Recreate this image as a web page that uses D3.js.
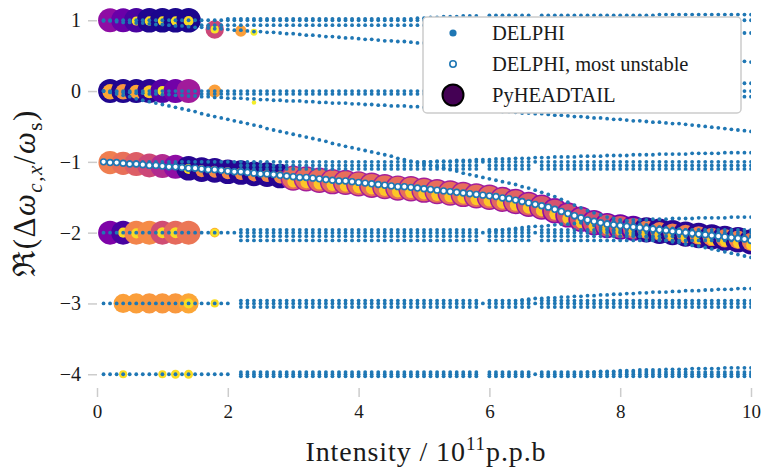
<!DOCTYPE html>
<html><head><meta charset="utf-8">
<script src="https://cdn.jsdelivr.net/npm/d3@7"></script>
<style>body{margin:0;background:#fff}</style>
</head><body><svg id="c" width="766" height="468"></svg>
<script>
// ---------------- DATA ----------------
const intensity = [
0.1,0.2,0.3,0.4,0.5,0.6,0.7,0.8,0.9,1.0,
1.1,1.2,1.3,1.4,1.5,1.6,1.7,1.8,1.9,2.0,
2.1,2.2,2.3,2.4,2.5,2.6,2.7,2.8,2.9,3.0,
3.1,3.2,3.3,3.4,3.5,3.6,3.7,3.8,3.9,4.0,
4.1,4.2,4.3,4.4,4.5,4.6,4.7,4.8,4.9,5.0,
5.1,5.2,5.3,5.4,5.5,5.6,5.7,5.8,5.9,6.0,
6.1,6.2,6.3,6.4,6.5,6.6,6.7,6.8,6.9,7.0,
7.1,7.2,7.3,7.4,7.5,7.6,7.7,7.8,7.9,8.0,
8.1,8.2,8.3,8.4,8.5,8.6,8.7,8.8,8.9,9.0,
9.1,9.2,9.3,9.4,9.5,9.6,9.7,9.8,9.9,10.0];

// DELPHI modes: real part of coherent tune shift, starting at the given intensity
const modeP1a = [
1,1,1,1,1,1,1,1,1,1, 1,1,1,1,1,1,1,1,1,1, 1,1,1,1,1,1,1,1,1,1, 1,1,1,1,1,1,1,1,1,1, 1,1,1,1,1,1,1,1,1,1,
1,1,1,1,1,1,1,1,1,1, 1,1,1,1,1,1,1,1,1,1, 1,1,1,1,1,1,1,1,1,1, 1,1,1,1,1,1,1,1,1,1, 1,1,1,1,1,1,1,1,1,1];
const modeP1b = [ // from 1.6
.93,.93,.93,.93,.93,
.93,.93,.93,.93,.93,.93,.93,.93,.93,.93,
.93,.93,.93,.93,.93,.93,.93,.93,.93,.93,
.93,.93,.93,.93,.93,.93,.93,.93,.93,.93,
.93,.93,.93,.93,.93,.93,.93,.93,null,.93,
.93,.93,.92,.92,.92,.92,null,.91,.91,.90,
.90,.90,.89,.89,.89,.88,.88,.88,.87,.87,
.87,.86,.86,.86,.85,.85,.85,.84,.84,.84,
.84,.83,.83,.83,.83,.82,.82,.82,.82,.82];
const modeP1c = [ // from 2.0
1.02,
1.02,1.02,1.02,1.02,1.02,1.02,1.02,1.02,1.02,1.02,
1.02,1.02,1.02,1.02,1.02,1.02,1.02,1.02,1.02,1.02,
1.02,1.02,1.02,1.02,1.02,1.02,1.02,1.02,1.03,1.03,
1.04,1.04,1.05,1.05,1.05,1.06,1.06,1.06,null,1.07,
1.07,1.07,1.07,1.07,1.07,1.07,null,1.07,1.07,1.07,
1.07,1.07,1.07,1.07,1.07,1.07,1.07,1.07,1.07,1.07,
1.07,1.07,1.07,1.07,1.07,1.08,1.08,1.08,1.08,1.08,
1.08,1.08,1.08,1.08,1.08,1.08,1.08,1.08,1.08,1.08];
const modeP1d = [ // from 0.1, slowly falling from +1
.99,.99,.98,.97,.97,.96,.96,.95,.94,.94,
.93,.92,.92,.91,.90,.90,.89,.88,.88,.87,
.86,.86,.85,.84,.84,.83,.83,.82,.81,.81,
.80,.79,.79,.78,.77,.77,.76,.75,.75,.74,
.73,.73,.72,.71,.71,.70,.70,.69,.68,.68,
.67,.67,.66,.65,.65,.64,.64,.63,.63,.62,
.62,.61,.61,.60,.60,.59,.59,.58,.57,.57,
.56,.56,.55,.55,.54,.54,.53,.53,.52,.52,
.51,.51,.50,.50,.49,.48,.48,.47,.47,.46,
.46,.45,.45,.44,.44,.43,.43,.42,.42,.41];
const mode0a = [
0,0,0,0,0,0,0,0,0,0, 0,0,0,0,0,0,0,0,0,0, 0,0,0,0,0,0,0,0,0,0, 0,0,0,0,0,0,0,0,0,0, 0,0,0,0,0,0,0,0,0,0,
0,0,0,0,0,0,0,0,0,0, 0,0,0,0,0,0,0,0,0,0, 0,0,0,0,0,0,0,0,0,0, 0,0,0,0,0,0,0,0,0,0, 0,0,0,0,0,0,0,0,0,0];
const mode0b = [ // from 1.6
-.04,-.04,-.04,-.04,-.04,
-.04,-.04,-.04,-.04,-.04,-.04,-.04,-.04,-.04,-.04,
-.04,-.04,-.04,-.04,-.04,-.04,-.04,-.04,-.04,-.04,
-.04,-.04,-.04,-.04,-.04,-.04,-.04,-.04,-.04,-.04,
-.04,-.04,-.04,-.04,-.04,-.04,-.04,-.04,null,-.04,
-.04,-.05,-.05,-.05,-.05,-.05,null,-.06,-.06,-.06,
-.06,-.06,-.06,-.06,-.07,-.07,-.07,-.07,-.07,-.07,
-.07,-.07,-.07,-.08,-.08,-.08,-.08,-.08,-.08,-.08,
-.08,-.08,-.08,-.08,-.08,-.08,-.08,-.08,-.08,-.08];
const mode0c = [ // from 5.0
0,
0,0,.01,.01,.01,.01,.02,.02,.02,.02,
.03,.03,.03,.03,.04,.04,.04,.04,.05,.05,
.05,.05,.06,.06,.06,.06,.07,.07,.07,.07,
.07,.08,.08,.08,.08,.09,.09,.09,.09,.09,
.10,.10,.10,.10,.10,.11,.11,.11,.11,.11];
const mode0d = [ // from 0.1, slow descent
0,-.01,-.01,-.02,-.02,-.03,-.03,-.04,-.04,-.05,
-.05,-.06,-.06,-.07,-.07,-.08,-.08,-.09,-.09,-.10,
-.10,-.10,-.11,-.11,-.12,-.12,-.13,-.13,-.14,-.14,
-.14,-.15,-.15,-.16,-.16,-.17,-.17,-.17,-.18,-.18,
-.19,-.19,-.20,-.20,-.21,-.21,-.21,-.22,-.22,-.23,
-.23,-.24,-.24,-.25,-.25,-.26,-.26,-.27,-.27,-.28,
-.28,-.29,-.29,-.30,-.31,-.31,-.32,-.32,-.33,-.34,
-.34,-.35,-.36,-.36,-.37,-.38,-.38,-.39,-.40,-.40,
-.41,-.42,-.42,-.43,-.44,-.44,-.45,-.46,-.46,-.47,
-.48,-.49,-.50,-.51,-.52,-.53,-.54,-.55,-.56,-.57];
const mode0e = [ // from 0.1, steep descent
0,-.02,-.04,-.06,-.08,-.11,-.13,-.15,-.17,-.19,
-.21,-.23,-.25,-.27,-.29,-.32,-.34,-.36,-.38,-.40,
-.42,-.44,-.46,-.48,-.50,-.53,-.55,-.57,-.59,-.61,
-.63,-.65,-.67,-.69,-.71,-.74,-.76,-.78,-.80,-.82,
-.84,-.86,-.88,-.90,-.92,-.95,-.97,-.99,-1.01,-1.03,
-1.05,-1.07,-1.09,-1.11,-1.13,-1.16,-1.18,-1.20,-1.22,-1.24,
-1.26,-1.28,-1.30,-1.32,-1.35,-1.37,-1.40,-1.43,-1.46,-1.49,
-1.53,-1.57,-1.61,-1.65,-1.69,-1.72,-1.75,-1.78,-1.80,-1.82,
-1.84,-1.86,-1.88,-1.89,-1.91,-1.92,-1.93,-1.94,-1.95,-1.96,
-1.97,-1.98,-1.99,-2.00,-2.01,-2.02,-2.03,-2.04,-2.05,-2.06];
const modeM1a = [
-1,-1,-1,-1,-1,-1,-1,-1,-1,-1, -1,-1,-1,-1,-1,-1,-1,-1,-1,-1, -1,-1,-1,-1,-1,-1,-1,-1,-1,-1, -1,-1,-1,-1,-1,-1,-1,-1,-1,-1, -1,-1,-1,-1,-1,-1,-1,-1,-1,-1,
-1,-1,-1,-1,-1,-1,-1,-1,-1,-1, -1,-1,-1,-1,-1,-1,-1,-1,-1,-1, -1,-1,-1,-1,-1,-1,-1,-1,-1,-1, -1,-1,-1,-1,-1,-1,-1,-1,-1,-1, -1,-1,-1,-1,-1,-1,-1,-1,-1,-1];
const modeM1b = [ // from 2.2
-1.05,-1.05,-1.05,-1.05,-1.05,-1.05,-1.05,-1.05,-1.05,
-1.05,-1.05,-1.05,-1.05,-1.05,-1.05,-1.05,-1.05,-1.05,-1.05,
-1.05,-1.05,-1.05,-1.05,-1.05,-1.05,-1.05,-1.05,-1.05,-1.05,
-1.05,-1.05,-1.05,-1.05,-1.05,-1.05,-1.05,-1.05,null,-1.05,
-1.05,-1.05,-1.05,-1.05,-1.05,-1.05,null,-1.05,-1.05,-1.05,
-1.05,-1.05,-1.05,-1.05,-1.05,-1.05,-1.05,-1.05,-1.05,-1.05,
-1.05,-1.05,-1.05,-1.05,-1.05,-1.05,-1.05,-1.05,-1.05,-1.05,
-1.05,-1.05,-1.05,-1.05,-1.05,-1.05,-1.05,-1.05,-1.05,-1.05];
const modeM1c = [ // from 2.2
-1.10,-1.10,-1.10,-1.10,-1.10,-1.10,-1.10,-1.10,-1.10,
-1.10,-1.10,-1.10,-1.10,-1.10,-1.10,-1.10,-1.10,-1.10,-1.10,
-1.10,-1.10,-1.10,-1.10,-1.10,-1.10,-1.10,-1.10,-1.10,-1.10,
-1.10,-1.10,-1.10,-1.10,-1.10,-1.10,-1.10,-1.10,null,-1.10,
-1.10,-1.10,-1.10,-1.10,-1.10,-1.10,null,-1.10,-1.10,-1.10,
-1.10,-1.10,-1.10,-1.10,-1.10,-1.10,-1.10,-1.10,-1.10,-1.10,
-1.10,-1.10,-1.10,-1.10,-1.10,-1.10,-1.10,-1.10,-1.10,-1.10,
-1.10,-1.10,-1.10,-1.10,-1.10,-1.10,-1.10,-1.10,-1.10,-1.10];
const modeM1d = [ // from 5.0
-1.00,
-1.00,-.99,-.99,-.99,-.98,-.98,-.98,-.97,-.97,-.97,
-.96,-.96,-.96,-.95,-.95,-.95,-.94,-.94,-.94,-.93,
-.93,-.93,-.93,-.92,-.92,-.92,-.92,-.91,-.91,-.91,
-.91,-.90,-.90,-.90,-.90,-.89,-.89,-.89,-.89,-.89,
-.88,-.88,-.88,-.88,-.88,-.87,-.87,-.87,-.87,-.87];
const modeM2a = [
-2,-2,-2,-2,-2,-2,-2,-2,-2,-2, -2,-2,-2,-2,-2,-2,-2,-2,-2,-2, -2,-2,-2,-2,-2,-2,-2,-2,-2,-2, -2,-2,-2,-2,-2,-2,-2,-2,-2,-2, -2,-2,-2,-2,-2,-2,-2,-2,-2,-2,
-2,-2,-2,-2,-2,-2,-2,-2,-2,-2, -2,-2,-2,-2,-2,-2,-2,-2,-2,-2, -2,-2,-2,-2,-2,-2,-2,-2,-2,-2, -2,-2,-2,-2,-2,-2,-2,-2,-2,-2, -2,-2,-2,-2,-2,-2,-2,-2,-2,-2];
const modeM2b = [ // from 2.2
-1.96,-1.96,-1.96,-1.96,-1.96,-1.96,-1.96,-1.96,-1.96,
-1.96,-1.96,-1.96,-1.96,-1.96,-1.96,-1.96,-1.96,-1.96,-1.96,
-1.96,-1.96,-1.96,-1.96,-1.96,-1.96,-1.96,-1.96,-1.96,-1.96,
-1.96,-1.96,-1.96,-1.96,-1.96,-1.96,-1.96,-1.96,null,-1.96,
-1.96,-1.96,-1.96,-1.96,-1.96,-1.96,null,-1.96,-1.96,-1.96,
-1.96,-1.96,-1.96,-1.96,-1.96,-1.96,-1.96,-1.96,-1.96,-1.96,
-1.96,-1.96,-1.96,-1.96,-1.96,-1.96,-1.96,-1.96,-1.96,-1.96,
-1.96,-1.96,-1.96,-1.96,-1.96,-1.96,-1.96,-1.96,-1.96,-1.96];
const modeM2c = [ // from 2.2
-2.05,-2.05,-2.05,-2.05,-2.05,-2.05,-2.05,-2.05,-2.05,
-2.05,-2.05,-2.05,-2.05,-2.05,-2.05,-2.05,-2.05,-2.05,-2.05,
-2.05,-2.05,-2.05,-2.05,-2.05,-2.05,-2.05,-2.05,-2.05,-2.05,
-2.05,-2.05,-2.05,-2.05,-2.05,-2.05,-2.05,-2.05,null,-2.05,
-2.05,-2.05,-2.05,-2.05,-2.05,-2.05,null,-2.05,-2.05,-2.05,
-2.05,-2.05,-2.05,-2.05,-2.05,-2.05,-2.05,-2.05,-2.05,-2.05,
-2.05,-2.05,-2.05,-2.05,-2.05,-2.05,-2.05,-2.05,-2.05,-2.05,
-2.05,-2.05,-2.05,-2.05,-2.05,-2.05,-2.05,-2.05,-2.05,-2.05];
const modeM2d = [ // from 2.2
-2.11,-2.11,-2.11,-2.11,-2.11,-2.11,-2.11,-2.11,-2.11,
-2.11,-2.11,-2.11,-2.11,-2.11,-2.11,-2.11,-2.11,-2.11,-2.11,
-2.11,-2.11,-2.11,-2.11,-2.11,-2.11,-2.11,-2.11,-2.11,-2.11,
-2.11,-2.11,-2.11,-2.11,-2.11,-2.11,-2.11,-2.11,null,-2.11,
-2.11,-2.11,-2.11,-2.11,-2.11,-2.11,null,-2.11,-2.11,-2.11,
-2.11,-2.11,-2.11,-2.11,-2.11,-2.11,-2.11,-2.11,-2.11,-2.11,
-2.11,-2.11,-2.11,-2.11,-2.11,-2.11,-2.11,-2.11,-2.11,-2.11,
-2.11,-2.11,-2.11,-2.11,-2.11,-2.11,-2.11,-2.11,-2.11,-2.11];
const modeM2e = [ // from 6.0, rising
-1.98,
-1.97,-1.96,-1.95,-1.94,-1.93,-1.92,-1.91,-1.91,-1.90,-1.89,
-1.88,-1.88,-1.87,-1.86,-1.86,-1.85,-1.85,-1.84,-1.84,-1.83,
-1.83,-1.82,-1.82,-1.82,-1.81,-1.81,-1.81,-1.80,-1.80,-1.80,
-1.80,-1.79,-1.79,-1.79,-1.79,-1.79,-1.78,-1.78,-1.78,-1.78];
const modeM2f = [ // from 7.0, splitting below the most unstable mode
-1.67,
-1.71,-1.75,-1.79,-1.83,-1.87,-1.90,-1.93,-1.95,-1.97,-1.99,
-2.01,-2.03,-2.05,-2.06,-2.08,-2.10,-2.11,-2.13,-2.14,-2.16,
-2.18,-2.19,-2.21,-2.23,-2.25,-2.27,-2.29,-2.31,-2.33,-2.35];
const modeM3a = [
-3,-3,-3,-3,-3,-3,-3,-3,-3,-3, -3,-3,-3,-3,-3,-3,-3,-3,-3,-3, null,-3,-3,-3,-3,-3,-3,-3,-3,-3, -3,-3,-3,-3,-3,-3,-3,-3,-3,-3, -3,-3,-3,-3,-3,-3,-3,-3,-3,-3,
-3,-3,-3,-3,-3,-3,-3,-3,-3,-3, -3,-3,-3,-3,-3,-3,-3,-3,-3,-3, -3,-3,-3,-3,-3,-3,-3,-3,-3,-3, -3,-3,-3,-3,-3,-3,-3,-3,-3,-3, -3,-3,-3,-3,-3,-3,-3,-3,-3,-3];
const modeM3b = [ // from 2.2
-2.96,-2.96,-2.96,-2.96,-2.96,-2.96,-2.96,-2.96,-2.96,
-2.96,-2.96,-2.96,-2.96,-2.96,-2.96,-2.96,-2.96,-2.96,-2.96,
-2.96,-2.96,-2.96,-2.96,-2.96,-2.96,-2.96,-2.96,-2.96,-2.96,
-2.96,-2.96,-2.96,-2.96,-2.96,-2.96,-2.96,-2.96,null,-2.96,
-2.96,-2.96,-2.96,-2.96,-2.96,-2.96,null,-2.96,-2.96,-2.96,
-2.96,-2.96,-2.96,-2.96,-2.96,-2.96,-2.96,-2.96,-2.96,-2.96,
-2.96,-2.96,-2.96,-2.96,-2.96,-2.96,-2.96,-2.96,-2.96,-2.96,
-2.96,-2.96,-2.96,-2.96,-2.96,-2.96,-2.96,-2.96,-2.96,-2.96];
const modeM3c = [ // from 2.2
-3.05,-3.05,-3.05,-3.05,-3.05,-3.05,-3.05,-3.05,-3.05,
-3.05,-3.05,-3.05,-3.05,-3.05,-3.05,-3.05,-3.05,-3.05,-3.05,
-3.05,-3.05,-3.05,-3.05,-3.05,-3.05,-3.05,-3.05,-3.05,-3.05,
-3.05,-3.05,-3.05,-3.05,-3.05,-3.05,-3.05,-3.05,null,-3.05,
-3.05,-3.05,-3.05,-3.05,-3.05,-3.05,null,-3.05,-3.05,-3.05,
-3.05,-3.05,-3.05,-3.05,-3.05,-3.05,-3.05,-3.05,-3.05,-3.05,
-3.05,-3.05,-3.05,-3.05,-3.05,-3.05,-3.05,-3.05,-3.05,-3.05,
-3.05,-3.05,-3.05,-3.05,-3.05,-3.05,-3.05,-3.05,-3.05,-3.05];
const modeM3d = [ // from 6.5, rising
-2.95,-2.94,-2.93,-2.93,-2.92,-2.92,
-2.91,-2.91,-2.90,-2.90,-2.89,-2.89,-2.88,-2.88,-2.87,-2.87,
-2.86,-2.86,-2.85,-2.85,-2.84,-2.84,-2.84,-2.83,-2.83,-2.82,
-2.82,-2.82,-2.81,-2.81,-2.80,-2.80,-2.80,-2.79,-2.79,-2.79];
const modeM4a = [
-4,-4,-4,-4,-4,-4,-4,-4,-4,-4, -4,-4,-4,-4,-4,-4,-4,-4,-4,-4, null,-4,-4,-4,-4,-4,-4,-4,-4,-4, -4,-4,-4,-4,-4,-4,-4,-4,-4,-4, -4,-4,-4,-4,-4,-4,-4,-4,-4,-4,
-4,-4,-4,-4,-4,-4,-4,-4,null,-4, -4,-4,-4,-4,-4,-4,-4,-4,-4,-4, -4,-4,-4,-4,-4,-4,-4,-4,-4,-4, -4,-4,-4,-4,-4,-4,-4,-4,-4,-4, -4,-4,-4,-4,-4,-4,-4,-4,-4,-4];
const modeM4b = [ // from 2.2
-3.97,-3.97,-3.97,-3.97,-3.97,-3.97,-3.97,-3.97,-3.97,
-3.97,-3.97,-3.97,-3.97,-3.97,-3.97,-3.97,-3.97,-3.97,-3.97,
-3.97,-3.97,-3.97,-3.97,-3.97,-3.97,-3.97,-3.97,-3.97,-3.97,
-3.97,-3.97,-3.97,-3.97,-3.97,-3.97,-3.97,-3.97,null,-3.97,
-3.97,-3.97,-3.97,-3.97,-3.97,-3.97,null,-3.97,-3.97,-3.97,
-3.97,-3.97,-3.97,-3.97,-3.97,-3.97,-3.97,-3.97,-3.97,-3.97,
-3.97,-3.97,-3.97,-3.97,-3.97,-3.97,-3.97,-3.97,-3.97,-3.97,
-3.97,-3.97,-3.97,-3.97,-3.97,-3.97,-3.97,-3.97,-3.97,-3.97];
const modeM4c = [ // from 2.2
-4.03,-4.03,-4.03,-4.03,-4.03,-4.03,-4.03,-4.03,-4.03,
-4.03,-4.03,-4.03,-4.03,-4.03,-4.03,-4.03,-4.03,-4.03,-4.03,
-4.03,-4.03,-4.03,-4.03,-4.03,-4.03,-4.03,-4.03,-4.03,-4.03,
-4.03,-4.03,-4.03,-4.03,-4.03,-4.03,-4.03,-4.03,null,-4.03,
-4.03,-4.03,-4.03,-4.03,-4.03,-4.03,null,-4.03,-4.03,-4.03,
-4.03,-4.03,-4.03,-4.03,-4.03,-4.03,-4.03,-4.03,-4.03,-4.03,
-4.03,-4.03,-4.03,-4.03,-4.03,-4.03,-4.03,-4.03,-4.03,-4.03,
-4.03,-4.03,-4.03,-4.03,-4.03,-4.03,-4.03,-4.03,-4.03,-4.03];
const modeM4d = [ // from 7.5, rising
-3.97,-3.97,-3.96,-3.96,-3.96,-3.95,
-3.95,-3.95,-3.94,-3.94,-3.94,-3.94,-3.93,-3.93,-3.93,-3.93,
-3.92,-3.92,-3.92,-3.92,-3.92,-3.91,-3.91,-3.91,-3.91,-3.91];

// DELPHI most unstable mode (from 0.1)
const mostUnstable = [
-1.00,-1.01,-1.01,-1.02,-1.03,-1.03,-1.04,-1.05,-1.05,-1.06,
-1.07,-1.07,-1.08,-1.09,-1.09,-1.10,-1.11,-1.11,-1.12,-1.13,
-1.14,-1.14,-1.15,-1.16,-1.17,-1.17,-1.18,-1.19,-1.20,-1.21,
-1.22,-1.22,-1.23,-1.24,-1.25,-1.26,-1.27,-1.27,-1.28,-1.29,
-1.30,-1.31,-1.32,-1.33,-1.34,-1.35,-1.35,-1.36,-1.37,-1.38,
-1.39,-1.40,-1.41,-1.42,-1.43,-1.44,-1.45,-1.46,-1.47,-1.48,
-1.49,-1.51,-1.52,-1.54,-1.56,-1.58,-1.60,-1.62,-1.64,-1.67,
-1.70,-1.73,-1.76,-1.79,-1.82,-1.84,-1.86,-1.88,-1.89,-1.90,
-1.91,-1.92,-1.93,-1.94,-1.95,-1.96,-1.97,-1.98,-1.99,-2.00,
-2.01,-2.02,-2.03,-2.04,-2.05,-2.06,-2.07,-2.08,-2.09,-2.11];

// list of DELPHI modes: [first intensity, values]
const delphiModes = [
  [0.1, modeP1a], [1.6, modeP1b], [2.0, modeP1c], [0.1, modeP1d],
  [0.1, mode0a], [1.6, mode0b], [5.0, mode0c], [0.1, mode0d], [0.1, mode0e],
  [0.1, modeM1a], [2.2, modeM1b], [2.2, modeM1c], [5.0, modeM1d],
  [0.1, modeM2a], [2.2, modeM2b], [2.2, modeM2c], [2.2, modeM2d], [6.0, modeM2e], [7.0, modeM2f],
  [0.1, modeM3a], [2.2, modeM3b], [2.2, modeM3c], [6.5, modeM3d],
  [0.1, modeM4a], [2.2, modeM4b], [2.2, modeM4c], [7.5, modeM4d]
];

// PyHEADTAIL: [intensity, Re(tune shift), amplitude (0..1), colour value (0..1)]
const phBandP1 = [
 [0.2,1.0,.85,.30],[0.4,1.0,.85,.20],[0.6,1.0,.88,.12],[0.6,0.99,.12,.93],
 [0.8,1.0,.9,.03],[0.8,0.99,.13,.93],[1.0,1.0,.9,.02],[1.0,0.99,.13,.93],
 [1.2,1.0,.9,.02],[1.2,0.99,.13,.93],[1.4,1.0,.9,.02],[1.4,0.99,.15,.93],
 [1.8,0.87,.5,.5],[1.8,0.87,.1,.95],[2.2,0.85,.2,.78],[2.4,0.83,.07,.97]];
const phBand0 = [
 [0.2,0,.85,.03],[0.2,-0.01,.35,.8],[0.4,0,.85,.03],[0.4,-0.01,.35,.75],
 [0.6,0,.85,.03],[0.6,-0.01,.3,.8],[0.8,0,.85,.05],[0.8,-0.01,.25,.88],
 [1.0,0,.85,.15],[1.0,0,.15,.95],[1.2,0,.85,.22],[1.4,0,.85,.35],
 [1.8,0,.25,.78],[2.4,-0.16,.03,.97]];
const phMain = [
 [0.2,-1.01,.8,.68],[0.4,-1.02,.8,.64],[0.6,-1.03,.85,.58],[0.8,-1.05,.85,.5],
 [1.0,-1.06,.85,.4],[1.2,-1.07,.85,.3],[1.4,-1.09,.9,.04],[1.4,-1.10,.15,.93],
 [1.6,-1.11,.9,.04],[1.6,-1.13,.22,.72],[1.8,-1.12,.9,.04],[1.8,-1.14,.22,.72],
 [2.0,-1.14,.9,.04],[2.0,-1.16,.22,.72],[2.2,-1.15,.9,.04],[2.2,-1.17,.22,.72],
 [2.4,-1.17,.9,.04],[2.4,-1.19,.22,.72],[2.6,-1.18,.9,.04],[2.6,-1.20,.22,.72],
 [2.8,-1.20,.9,.04],[2.8,-1.22,.22,.72],
 [3.0,-1.23,.95,.36],[3.0,-1.23,.74,.63],[3.0,-1.28,.2,.88],
 [3.2,-1.24,.95,.36],[3.2,-1.24,.74,.63],[3.2,-1.29,.2,.88],
 [3.4,-1.26,.95,.36],[3.4,-1.26,.74,.63],[3.4,-1.31,.2,.88],
 [3.6,-1.28,.95,.36],[3.6,-1.28,.74,.63],[3.6,-1.33,.2,.88],
 [3.8,-1.29,.95,.36],[3.8,-1.29,.74,.63],[3.8,-1.34,.2,.88],
 [4.0,-1.31,.95,.36],[4.0,-1.31,.74,.63],[4.0,-1.36,.2,.88],
 [4.2,-1.33,.95,.36],[4.2,-1.33,.74,.63],[4.2,-1.38,.2,.88],
 [4.4,-1.35,.95,.36],[4.4,-1.35,.74,.63],[4.4,-1.40,.2,.88],
 [4.6,-1.37,.95,.36],[4.6,-1.37,.74,.63],[4.6,-1.42,.2,.88],
 [4.8,-1.38,.95,.36],[4.8,-1.38,.74,.63],[4.8,-1.43,.2,.88],
 [5.0,-1.40,.95,.36],[5.0,-1.40,.74,.63],[5.0,-1.45,.2,.88],
 [5.2,-1.42,.95,.36],[5.2,-1.42,.74,.63],[5.2,-1.47,.2,.88],
 [5.4,-1.44,.95,.36],[5.4,-1.44,.74,.63],[5.4,-1.49,.2,.88],
 [5.6,-1.46,.95,.36],[5.6,-1.46,.74,.63],[5.6,-1.51,.2,.88],
 [5.8,-1.48,.95,.36],[5.8,-1.48,.74,.63],[5.8,-1.53,.2,.88],
 [6.0,-1.50,.95,.35],[6.0,-1.50,.74,.62],[6.0,-1.55,.2,.88],
 [6.2,-1.53,.95,.34],[6.2,-1.53,.74,.61],[6.2,-1.58,.2,.88],
 [6.4,-1.56,.95,.33],[6.4,-1.56,.74,.6],[6.4,-1.61,.2,.88],
 [6.6,-1.60,.95,.32],[6.6,-1.60,.74,.58],[6.6,-1.65,.2,.88],
 [6.8,-1.64,.95,.31],[6.8,-1.64,.74,.56],[6.8,-1.69,.2,.88],
 [7.0,-1.69,.95,.3],[7.0,-1.69,.72,.54],[7.0,-1.74,.18,.88],
 [7.2,-1.75,.95,.3],[7.2,-1.75,.72,.53],[7.2,-1.80,.18,.88],
 [7.4,-1.81,.95,.3],[7.4,-1.81,.72,.53],[7.4,-1.86,.18,.88],
 [7.6,-1.86,.95,.28],[7.6,-1.86,.72,.53],[7.6,-1.91,.18,.88],
 [7.8,-1.90,.95,.26],[7.8,-1.90,.72,.54],[7.8,-1.95,.18,.88],
 [8.0,-1.92,.95,.22],[8.0,-1.92,.7,.56],[8.0,-1.97,.16,.88],
 [8.2,-1.94,.95,.18],[8.2,-1.94,.65,.58],[8.2,-1.99,.16,.88],
 [8.4,-1.96,.95,.05],[8.4,-1.96,.5,.68],[8.4,-2.01,.14,.9],
 [8.6,-1.98,.95,.05],[8.6,-1.98,.5,.68],[8.6,-2.03,.14,.9],
 [8.8,-2.00,.95,.05],[8.8,-2.00,.5,.68],[8.8,-2.05,.14,.9],
 [9.0,-2.02,.95,.05],[9.0,-2.02,.5,.68],[9.0,-2.07,.14,.9],
 [9.2,-2.04,.95,.05],[9.2,-2.04,.5,.68],[9.2,-2.09,.14,.9],
 [9.4,-2.06,.95,.05],[9.4,-2.06,.5,.68],[9.4,-2.11,.14,.9],
 [9.6,-2.08,.95,.05],[9.6,-2.08,.5,.68],[9.6,-2.13,.14,.9],
 [9.8,-2.10,.95,.05],[9.8,-2.10,.5,.68],[9.8,-2.15,.14,.9],
 [10.0,-2.13,.95,.05],[10.0,-2.13,.5,.68],[10.0,-2.18,.14,.9]];
const phBandM2 = [
 [0.2,-2,.85,.25],[0.4,-2,.85,.12],[0.4,-2,.15,.93],[0.6,-2,.85,.7],[0.6,-2.01,.15,.93],
 [0.8,-2,.85,.72],[1.0,-2,.85,.52],[1.0,-2,.18,.93],[1.2,-2,.85,.62],[1.2,-2,.18,.93],
 [1.4,-2,.85,.66],[1.8,-2,.14,.82],[1.8,-2,.09,.95]];
const phBandM3 = [
 [0.4,-3,.55,.78],[0.6,-3,.6,.78],[0.8,-3,.6,.76],[1.0,-3,.6,.76],[1.2,-3,.6,.76],
 [1.4,-3,.6,.8],[1.4,-3,.15,.93],[1.8,-3,.1,.93]];
const phBandM4 = [
 [0.4,-4,.1,.93],[1.0,-4,.1,.93],[1.2,-4,.12,.93],[1.4,-4,.12,.93]];

const xTicks = [0,2,4,6,8,10];
const yTicks = [-4,-3,-2,-1,0,1];
const legendLabels = ["DELPHI", "DELPHI, most unstable", "PyHEADTAIL"];

// ---------------- DRAW ----------------
const svg = d3.select("#c");
const W = 766, H = 468;
const x = d3.scaleLinear().domain([0,10]).range([97,751]);
const y = d3.scaleLinear().domain([-4.2,1.2]).range([388.4,6.1]);
const rScale = d3.scaleSqrt().domain([0,1]).range([0,13]);
const col = d3.interpolatePlasma;
const serif = "'Liberation Serif','Times New Roman',serif";
const blue = "#1f77b4";

svg.append("rect").attr("width",W).attr("height",H).attr("fill","#fff");
svg.append("clipPath").attr("id","clip").append("rect")
  .attr("x",97).attr("y",0).attr("width",751-97).attr("height",392);

const plot = svg.append("g").attr("clip-path","url(#clip)");

// PyHEADTAIL
const ph = [].concat(phBandP1, phBand0, phMain, phBandM2, phBandM3, phBandM4);
plot.append("g").selectAll("circle").data(ph).join("circle")
  .attr("cx", d => x(d[0])).attr("cy", d => y(d[1]))
  .attr("r", d => rScale(d[2])).attr("fill", d => col(d[3]));

// DELPHI all modes
const delphiPts = [];
delphiModes.forEach(([start, vals]) => {
  const k = intensity.indexOf(start);
  vals.forEach((v, j) => { if (v !== null) delphiPts.push([intensity[k + j], v]); });
});
plot.append("g").selectAll("circle").data(delphiPts).join("circle")
  .attr("cx", d => x(d[0])).attr("cy", d => y(d[1])).attr("r", 1.9).attr("fill", blue);

// most unstable
plot.append("g").selectAll("circle").data(mostUnstable.map((v,i)=>[intensity[i],v])).join("circle")
  .attr("cx", d => x(d[0])).attr("cy", d => y(d[1])).attr("r", 2.9)
  .attr("fill","#fff").attr("stroke",blue).attr("stroke-width",1.6);

// axes
const yAxis = d3.axisLeft(y).tickValues(yTicks).tickSize(9).tickPadding(7)
  .tickFormat(d => d < 0 ? "\u2212" + Math.abs(d) : String(d));
const gy = svg.append("g").attr("transform","translate(97,0)").call(yAxis);
gy.select(".domain").remove();
gy.selectAll(".tick line").attr("stroke","#cccccc").attr("stroke-width",1.5);
gy.selectAll(".tick text").attr("font-family",serif).attr("font-size",20).attr("fill","#1a1a1a");

const xAxis = d3.axisBottom(x).tickValues(xTicks).tickSize(9).tickPadding(8);
const gx = svg.append("g").attr("transform","translate(0,388)").call(xAxis);
gx.select(".domain").remove();
gx.selectAll(".tick line").attr("stroke","#cccccc").attr("stroke-width",1.5);
gx.selectAll(".tick text").attr("font-family",serif).attr("font-size",19).attr("fill","#1a1a1a");

// x label
const xl = svg.append("text").attr("x",426).attr("y",461).attr("text-anchor","middle")
  .attr("font-family",serif).attr("font-size",28).attr("letter-spacing",0.9).attr("fill","#1a1a1a");
xl.append("tspan").text("Intensity / 10");
xl.append("tspan").attr("font-size",19).attr("dy",-11).text("11");
xl.append("tspan").attr("dy",11).text("p.p.b");

// y label
const yl = svg.append("text").attr("transform","translate(35,193) rotate(-90)")
  .attr("text-anchor","middle").attr("font-family",serif).attr("font-size",31)
  .attr("letter-spacing",1.5).attr("fill","#1a1a1a");
yl.append("tspan").text("\u211C(\u0394");
yl.append("tspan").attr("font-style","italic").text("\u03C9");
yl.append("tspan").attr("font-style","italic").attr("font-size",21).attr("dy",7).text("c,x");
yl.append("tspan").attr("dy",-7).text("/");
yl.append("tspan").attr("font-style","italic").text("\u03C9");
yl.append("tspan").attr("font-size",21).attr("dy",7).text("s");
yl.append("tspan").attr("dy",-7).text(")");

// legend
const lg = svg.append("g");
lg.append("rect").attr("x",423).attr("y",17).attr("width",318).attr("height",96).attr("rx",4)
  .attr("fill","#fff").attr("stroke","#cccccc").attr("stroke-width",1.5);
const rows = [33, 64, 95];
lg.append("circle").attr("cx",453).attr("cy",rows[0]).attr("r",3.6).attr("fill",blue);
lg.append("circle").attr("cx",453).attr("cy",rows[1]).attr("r",3.2).attr("fill","#fff")
  .attr("stroke",blue).attr("stroke-width",1.6);
lg.append("circle").attr("cx",453).attr("cy",rows[2]).attr("r",10.5).attr("fill","#440154")
  .attr("stroke","#000").attr("stroke-width",2);
legendLabels.forEach((t,i) => {
  lg.append("text").attr("x",492).attr("y",rows[i]+6.5).attr("font-family",serif)
    .attr("font-size",20.5).attr("fill","#1a1a1a").text(t);
});
</script></body></html>
